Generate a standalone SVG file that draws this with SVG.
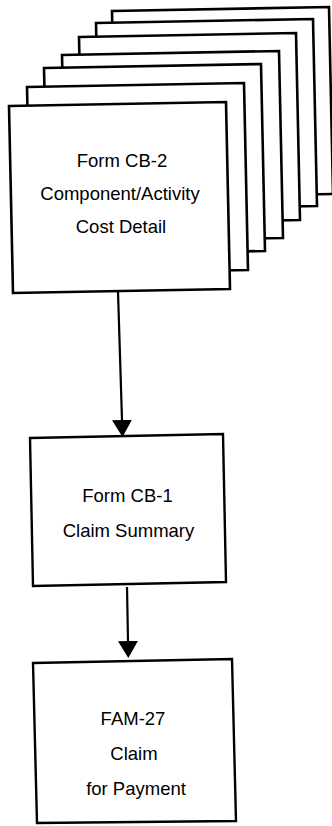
<svg xmlns="http://www.w3.org/2000/svg" width="332" height="826" viewBox="0 0 332 826">
  <style>
    .page { fill: #ffffff; stroke: #000000; stroke-width: 2.6; stroke-linejoin: miter; }
    .box { fill: #ffffff; stroke: #000000; stroke-width: 2.4; }
    .conn { fill: none; stroke: #000000; stroke-width: 2.2; }
    .label { font-family: "Liberation Sans", Arial, sans-serif; font-size: 18.5px; fill: #000000; text-anchor: middle; }
  </style>
  <defs>
    <marker id="arrow" viewBox="0 0 17 20" refX="0" refY="10" markerWidth="17" markerHeight="20" markerUnits="userSpaceOnUse" orient="auto">
      <path d="M0,0 L17,10 L0,20 Z" fill="#000000"/>
    </marker>
  </defs>
  <rect width="332" height="826" fill="#ffffff"/>

  <g id="cb2-stack">
    <polygon class="page" points="112,11 329,7 333,194 116,198"/>
    <polygon class="page" points="96,23 313,19 317,206 100,210"/>
    <polygon class="page" points="79,37 296,33 300,220 83,224"/>
    <polygon class="page" points="62,55 279,51 283,238 66,242"/>
    <polygon class="page" points="44,68 261,64 265,251 48,255"/>
    <polygon class="page" points="27,87 244,83 248,270 31,274"/>
    <g id="cb2">
      <polygon class="page" points="9,106 226,102 230,289 13,293"/>
      <text class="label" x="122" y="167">Form CB-2</text>
      <text class="label" x="120" y="200">Component/Activity</text>
      <text class="label" x="121" y="233">Cost Detail</text>
    </g>
  </g>

  <g id="connectors">
    <line class="conn" x1="118" y1="292" x2="122" y2="420" marker-end="url(#arrow)"/>
    <line class="conn" x1="127" y1="587" x2="128" y2="641" marker-end="url(#arrow)"/>
  </g>

  <g id="cb1">
    <polygon class="box" points="30,438 223,434 226,582 33,586"/>
    <text class="label" x="127.5" y="502">Form CB-1</text>
    <text class="label" x="128.5" y="537">Claim Summary</text>
  </g>

  <g id="fam27">
    <polygon class="box" points="33,663 232,659 236,821 37,823"/>
    <text class="label" x="133" y="725">FAM-27</text>
    <text class="label" x="134" y="760">Claim</text>
    <text class="label" x="136" y="795">for Payment</text>
  </g>
</svg>
